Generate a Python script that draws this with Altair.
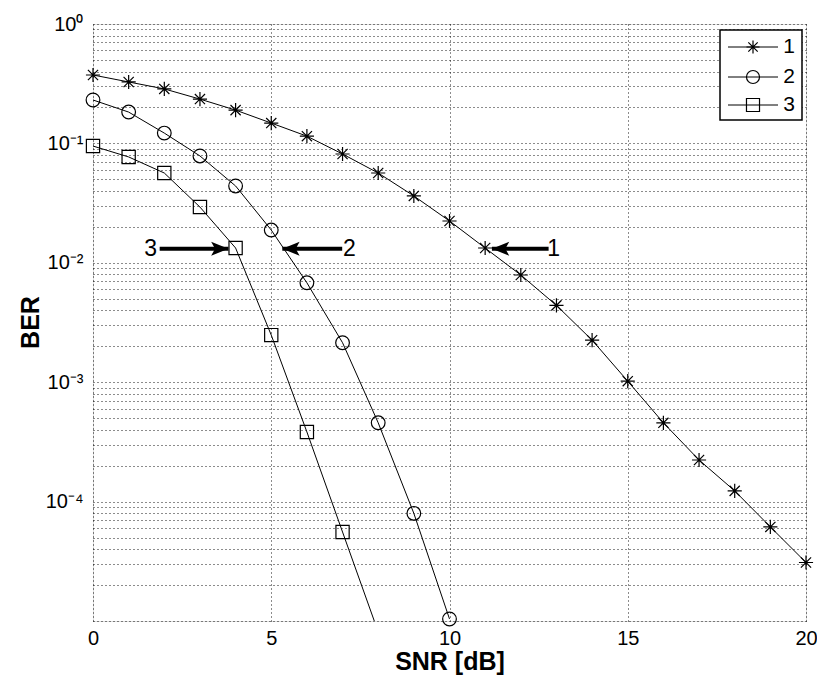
import altair as alt
import pandas as pd

# ---------------- data ----------------
series_names = ["1", "2", "3"]

snr_1 = list(range(0, 21))
ber_1 = [0.374, 0.327, 0.286, 0.235, 0.19, 0.148, 0.115, 0.0815, 0.0565, 0.0363,
         0.0224, 0.0133, 0.0079, 0.0044, 0.00225, 0.00102, 0.000457, 0.000223,
         0.000123, 0.0000614, 0.0000309]

snr_2 = list(range(0, 11))
ber_2 = [0.231, 0.183, 0.122, 0.0785, 0.044, 0.0188, 0.0068, 0.00214, 0.000457,
         0.0000797, 0.0000104]

snr_3 = list(range(0, 9))
ber_3 = [0.095, 0.077, 0.0565, 0.0293, 0.0133, 0.00248, 0.000383, 0.0000556, 0.0000081]

arrow_labels = ["1", "2", "3"]
arrow_tail = [12.78, 6.99, 1.87]
arrow_tip = [11.19, 5.31, 3.80]
arrow_text_x = [12.92, 7.19, 1.62]
arrow_ber = [0.0131, 0.0131, 0.0131]

x_ticks = [0, 5, 10, 15, 20]
y_decades = [1e-5, 1e-4, 1e-3, 1e-2, 1e-1, 1.0]

# ---------------- tables ----------------
rows = []
for name, xs, ys in [("1", snr_1, ber_1), ("2", snr_2, ber_2), ("3", snr_3, ber_3)]:
    for xv, yv in zip(xs, ys):
        rows.append({"series": name, "snr": xv, "ber": yv})
df = pd.DataFrame(rows)

arrows = pd.DataFrame({"label": arrow_labels, "tail": arrow_tail, "tip": arrow_tip,
                       "tx": arrow_text_x, "ber": arrow_ber})

y_grid = []
for d in y_decades[:-1]:
    for m in range(1, 10):
        y_grid.append(round(d * m, 12))
y_grid.append(1.0)

FONT = "Liberation Sans"
STAR = "M-1,0L1,0M0,-1L0,1M-0.72,-0.72L0.72,0.72M-0.72,0.72L0.72,-0.72"
shape_scale = alt.Scale(domain=series_names, range=[STAR, "circle", "square"])

label_expr = (
    "datum.value > 0.99 ? '10⁰' : "
    "(datum.value > 0.099 && datum.value < 0.101) ? '10⁻¹' : "
    "(datum.value > 0.0099 && datum.value < 0.0101) ? '10⁻²' : "
    "(datum.value > 0.00099 && datum.value < 0.00101) ? '10⁻³' : "
    "(datum.value > 0.000099 && datum.value < 0.000101) ? '10⁻⁴' : ''"
)

x_enc = alt.X(
    "snr:Q",
    scale=alt.Scale(domain=[0, 20], nice=False, zero=False),
    axis=alt.Axis(values=x_ticks, title="SNR [dB]", grid=True, gridDash=[1, 3],
                  gridColor="#000000", gridOpacity=0.9, ticks=False, tickSize=0,
                  labelPadding=7, labelFontSize=20, labelFont=FONT, labelColor="black",
                  labelFlush=False, domain=False, titleFont=FONT, titleFontSize=25,
                  titleFontWeight="bold", titleColor="black", titleY=40,
                  titleBaseline="middle"),
)
y_enc = alt.Y(
    "ber:Q",
    scale=alt.Scale(type="log", domain=[1e-5, 1], nice=False),
    axis=alt.Axis(values=y_grid, labelExpr=label_expr, title="BER", grid=True,
                  gridDash=[1, 3], gridColor="#000000", gridOpacity=0.9, ticks=False,
                  tickSize=0, labelPadding=10, labelFontSize=20, labelFont=FONT,
                  labelColor="black", labelOverlap=False, labelFlush=False,
                  domain=False, titleFont=FONT, titleFontSize=25, titleFontWeight="bold",
                  titleColor="black", titleX=-63, titleY=298, titleAngle=-90,
                  titleAlign="center", titleBaseline="middle"),
)

base = alt.Chart(df)

lines = base.mark_line(color="black", strokeWidth=1, clip=True).encode(
    x=x_enc, y=y_enc, detail="series:N"
)

points = base.transform_filter("datum.ber >= 0.00001").mark_point(
    filled=False, color="black", strokeWidth=1.2, opacity=1
).encode(
    x="snr:Q", y="ber:Q",
    shape=alt.Shape("series:N", scale=shape_scale, legend=None),
    size=alt.Size("series:N", scale=alt.Scale(domain=series_names, range=[200, 175, 170]),
                  legend=None),
)

arrow_base = alt.Chart(arrows)
shafts = arrow_base.mark_rule(color="black", strokeWidth=4).encode(
    x="tail:Q", x2="tip:Q", y="ber:Q"
)
RIGHT_HEAD = "M0,0L-2,-0.8L-1.55,0L-2,0.8Z"
LEFT_HEAD = "M0,0L2,-0.8L1.55,0L2,0.8Z"
heads_r = arrow_base.transform_filter("datum.tip > datum.tail").mark_point(
    shape=RIGHT_HEAD, filled=True, color="black", size=300, opacity=1
).encode(x="tip:Q", y="ber:Q")
heads_l = arrow_base.transform_filter("datum.tip < datum.tail").mark_point(
    shape=LEFT_HEAD, filled=True, color="black", size=300, opacity=1
).encode(x="tip:Q", y="ber:Q")
arrow_text = arrow_base.mark_text(font=FONT, fontSize=23, color="black",
                                  align="center", baseline="middle").encode(
    x="tx:Q", y="ber:Q", text="label:N"
)

# ---------------- manual legend box (MATLAB style) ----------------
leg_box = alt.Chart(pd.DataFrame({"k": [0]})).mark_rect(
    fill="white", stroke="black", strokeWidth=1.5
).encode(x=alt.value(627), x2=alt.value(709), y=alt.value(6), y2=alt.value(96))

legend_layers = [leg_box]
row_y = [23, 53, 81]
for name, ry in zip(series_names, row_y):
    one = alt.Chart(pd.DataFrame({"series": [name]}))
    legend_layers.append(one.mark_rule(color="black", strokeWidth=1).encode(
        x=alt.value(635), x2=alt.value(685), y=alt.value(ry)))
    legend_layers.append(one.mark_point(filled=False, color="black", strokeWidth=1.2,
                                        opacity=1, size=170).encode(
        x=alt.value(660), y=alt.value(ry),
        shape=alt.Shape("series:N", scale=shape_scale, legend=None)))
    legend_layers.append(one.mark_text(font=FONT, fontSize=21, color="black",
                                       align="center", baseline="middle").encode(
        x=alt.value(696), y=alt.value(ry), text="series:N"))

chart = alt.layer(lines, points, shafts, heads_r, heads_l, arrow_text, *legend_layers).properties(
    width=713, height=597,
    autosize=alt.AutoSizeParams(type="none"),
    padding={"left": 85, "top": 16, "right": 11, "bottom": 55},
).configure_view(stroke="black", strokeWidth=1.5).configure(background="white")

chart.save("out.html", embed_options={"renderer": "svg", "actions": False})
